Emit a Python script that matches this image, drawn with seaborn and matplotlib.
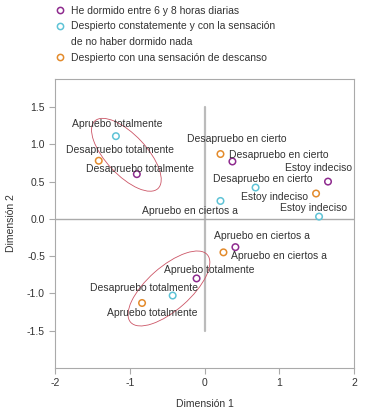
import matplotlib
matplotlib.use("Agg")
import matplotlib.pyplot as plt
from matplotlib.patches import Ellipse
import seaborn as sns
import pandas as pd

# ---- data ----
series_names = [
    "He dormido entre 6 y 8 horas diarias",
    "Despierto constatemente y con la sensación\nde no haber dormido nada",
    "Despierto con una sensación de descanso",
]
# series 1 (purple)
s1_labels = ["Desapruebo totalmente", "Desapruebo en cierto", "Estoy indeciso",
             "Apruebo en ciertos a", "Apruebo totalmente"]
s1_dim1 = [-0.91, 0.37, 1.65, 0.41, -0.11]
s1_dim2 = [0.60, 0.77, 0.50, -0.38, -0.80]
# series 2 (cyan)
s2_labels = ["Apruebo totalmente", "Desapruebo en cierto", "Apruebo en ciertos a",
             "Estoy indeciso", "Desapruebo totalmente"]
s2_dim1 = [-1.19, 0.68, 0.21, 1.53, -0.43]
s2_dim2 = [1.11, 0.42, 0.24, 0.03, -1.03]
# series 3 (orange)
s3_labels = ["Desapruebo totalmente", "Desapruebo en cierto", "Estoy indeciso",
             "Apruebo en ciertos a", "Apruebo totalmente"]
s3_dim1 = [-1.42, 0.21, 1.49, 0.25, -0.84]
s3_dim2 = [0.78, 0.87, 0.34, -0.45, -1.13]

# ---- layout / style ----
colors = ["#8E2B8E", "#5EC3D6", "#E38B2C"]
# label offsets in points (dx, dy) per point
s1_off = [(2, 4), (33, 5), (-7, 10), (19, 8), (9, 6)]
s2_off = [(1, 9), (5, 6.5), (-22, -7), (-4, 6.3), (-21, 5.5)]
s3_off = [(15, 8), (12, 11), (-30, -2.4), (40, -2.4), (7, -7)]
ellipses = [((-1.05, 0.86), 1.24, 0.54, -47), ((-0.48, -0.935), 1.37, 0.58, 41.5)]

sns.set_style("ticks")
plt.rcParams["font.family"] = ["Liberation Sans", "DejaVu Sans"]
plt.rcParams["axes.unicode_minus"] = False

rows = []
for name, labs, xs, ys in zip(series_names,
                              [s1_labels, s2_labels, s3_labels],
                              [s1_dim1, s2_dim1, s3_dim1],
                              [s1_dim2, s2_dim2, s3_dim2]):
    for l, x, y in zip(labs, xs, ys):
        rows.append({"serie": name, "label": l, "dim1": x, "dim2": y})
df = pd.DataFrame(rows)

fig = plt.figure(figsize=(3.72, 4.17), dpi=100)
ax = fig.add_axes([0.149, 0.118, 0.803, 0.693])

gray = "#AAAAAA"
ax.plot([0, 0], [-1.5, 1.5], color="#BBBBBB", lw=1.6, zorder=1)
ax.axhline(0, color=gray, lw=1.0, zorder=1)

sns.scatterplot(data=df, x="dim1", y="dim2", hue="serie", palette=colors,
                hue_order=series_names, ax=ax, s=22, marker="o",
                linewidth=1.1, zorder=3, legend=False)
# make markers hollow with colored edges
coll = ax.collections[-1]
fc = coll.get_facecolors()
coll.set_edgecolors(fc)
coll.set_facecolors("none")

offs = s1_off + s2_off + s3_off
for (i, r), o in zip(df.iterrows(), offs):
    ax.annotate(r["label"], (r["dim1"], r["dim2"]), xytext=o,
                textcoords="offset points", ha="center", va="center",
                fontsize=7.5, color="#333333", zorder=4)

for c, w, h, a in ellipses:
    ax.add_patch(Ellipse(c, w, h, angle=a, fill=False, edgecolor="#CC5566",
                         lw=0.6, zorder=2))

ax.set_xlim(-2, 2)
ax.set_ylim(-2, 1.88)
ax.set_xticks([-2, -1, 0, 1, 2])
ax.set_yticks([-1.5, -1.0, -0.5, 0.0, 0.5, 1.0, 1.5])
ax.set_yticklabels(["-1.5", "-1.0", "-0.5", "0.0", "0.5", "1.0", "1.5"])
ax.tick_params(axis="both", labelsize=7.5, colors=gray, labelcolor="#333333",
               length=4, width=0.8, direction="out")
for sp in ax.spines.values():
    sp.set_color(gray)
    sp.set_linewidth(0.8)
ax.set_xlabel("Dimensión 1", fontsize=7.5, color="#333333", labelpad=8)
ax.set_ylabel("Dimensión 2", fontsize=7.5, color="#333333", labelpad=8)

# legend: split multi-line names so the marker sits on the first line
leg_handles, leg_labels = [], []
for c, name in zip(colors, series_names):
    parts = name.split("\n")
    for k, p in enumerate(parts):
        if k == 0:
            h = plt.Line2D([], [], marker="o", linestyle="none", markersize=4.5,
                           markerfacecolor="none", markeredgecolor=c,
                           markeredgewidth=1.1)
        else:
            h = plt.Line2D([], [], linestyle="none", marker=None)
        leg_handles.append(h)
        leg_labels.append(p)
leg = fig.legend(leg_handles, leg_labels, loc="upper left",
                 bbox_to_anchor=(0.135, 1.0), frameon=False, fontsize=7.5,
                 handlelength=0.8, handletextpad=0.6, labelspacing=0.55,
                 borderaxespad=0.15, labelcolor="#333333")

fig.savefig("out.png", dpi=100)
